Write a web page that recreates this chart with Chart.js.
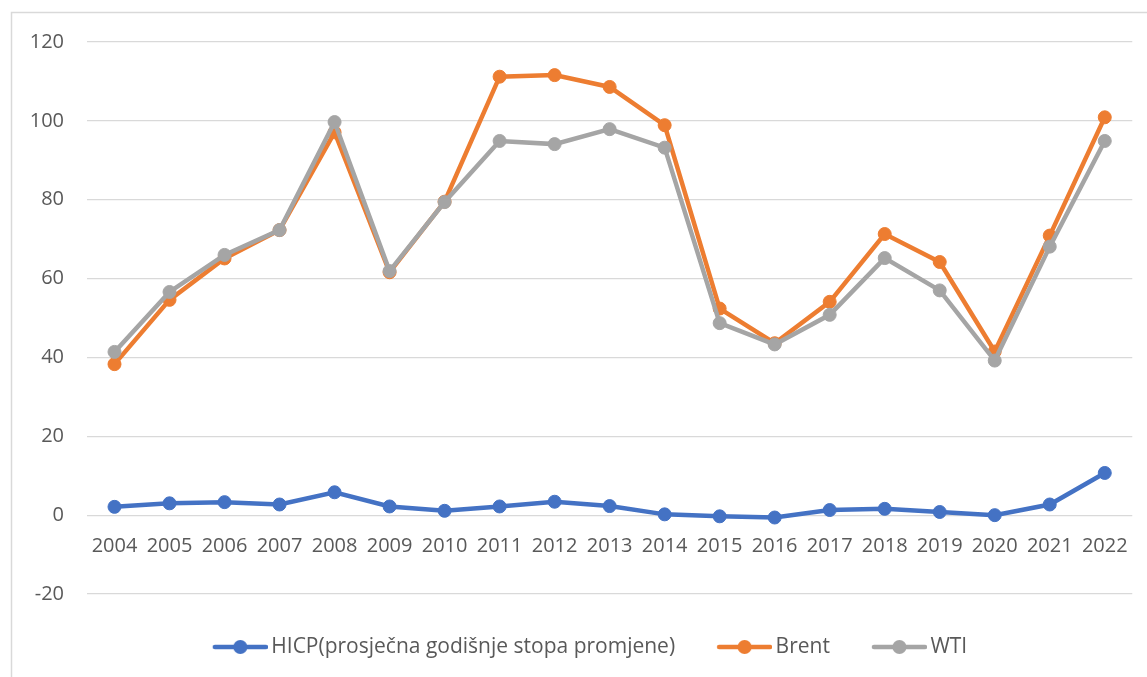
<!DOCTYPE html>
<html>
<head>
<meta charset="utf-8">
<script src="https://cdn.jsdelivr.net/npm/chart.js@4.4.0/dist/chart.umd.min.js"></script>
<style>
  html, body { margin: 0; padding: 0; background: #fff; }
  #wrap { width: 1147px; height: 677px; position: relative; }
</style>
</head>
<body>
<div id="wrap"><canvas id="c"></canvas></div>
<script>
const categories = ["2004","2005","2006","2007","2008","2009","2010","2011","2012","2013","2014","2015","2016","2017","2018","2019","2020","2021","2022"];
const hicp  = [2.1, 3.0, 3.3, 2.7, 5.8, 2.2, 1.1, 2.2, 3.4, 2.3, 0.2, -0.3, -0.6, 1.3, 1.6, 0.8, 0.0, 2.7, 10.7];
const brent = [38.3, 54.6, 65.1, 72.3, 97.1, 61.6, 79.5, 111.2, 111.6, 108.6, 98.9, 52.4, 43.6, 54.1, 71.3, 64.2, 41.5, 70.9, 100.9];
const wti   = [41.4, 56.6, 66.0, 72.3, 99.7, 61.9, 79.4, 94.9, 94.1, 97.9, 93.2, 48.7, 43.3, 50.8, 65.2, 57.0, 39.2, 68.1, 94.9];
const seriesNames = ["HICP(prosječna godišnje stopa promjene)", "Brent", "WTI"];
const seriesColors = ["#4472C4", "#ED7D31", "#A5A5A5"];
const yTicks = [-20, 0, 20, 40, 60, 80, 100, 120];

const FONT = "'Open Sans', 'Liberation Sans', sans-serif";
const TEXT = "#595959";
const BOXW = 80;
const IMGW = BOXW + 14;

function legendImage(color) {
  const c = document.createElement('canvas');
  c.width = IMGW; c.height = 18;
  const ctx = c.getContext('2d');
  const x0 = IMGW - 55, x1 = IMGW;
  ctx.strokeStyle = color; ctx.lineWidth = 4.5; ctx.lineCap = 'round';
  ctx.beginPath(); ctx.moveTo(x0 + 2, 9); ctx.lineTo(x1 - 2, 9); ctx.stroke();
  ctx.fillStyle = color;
  ctx.beginPath(); ctx.arc((x0 + x1) / 2, 9, 7, 0, Math.PI * 2); ctx.fill();
  return c;
}

const framePlugin = {
  id: 'frame',
  beforeDraw(chart) {
    const ctx = chart.ctx;
    ctx.save();
    ctx.strokeStyle = '#d9d9d9';
    ctx.lineWidth = 1.5;
    ctx.beginPath();
    ctx.moveTo(11.5, 677);
    ctx.lineTo(11.5, 12.5);
    ctx.lineTo(1147, 12.5);
    ctx.stroke();
    ctx.restore();
  },
  afterLayout(chart) {
    if (chart.legend) {
      chart.legend.left += 7.5;
      chart.legend.right += 7.5;
    }
  }
};

const datasets = [hicp, brent, wti].map((d, i) => ({
  label: seriesNames[i],
  data: d,
  borderColor: seriesColors[i],
  backgroundColor: seriesColors[i],
  pointBackgroundColor: seriesColors[i],
  pointBorderColor: seriesColors[i],
  borderWidth: 4.5,
  pointRadius: 6.5,
  pointBorderWidth: 1,
  tension: 0,
  order: 3 - i
}));

new Chart(document.getElementById('c'), {
  type: 'line',
  data: { labels: categories, datasets },
  plugins: [framePlugin],
  options: {
    responsive: true,
    maintainAspectRatio: false,
    devicePixelRatio: 1,
    animation: false,
    layout: { padding: { left: 0, right: 14, top: 42, bottom: 9.5 } },
    scales: {
      x: {
        type: 'category',
        offset: true,
        position: { y: 0 },
        grid: { display: false, drawTicks: false },
        border: { display: false },
        ticks: { color: TEXT, font: { family: FONT, size: 20 }, padding: 19, maxRotation: 0, autoSkip: false }
      },
      y: {
        min: -20, max: 120,
        afterBuildTicks(scale) { scale.ticks = yTicks.map(v => ({ value: v })); },
        grid: { color: '#d9d9d9', lineWidth: 1.2, drawTicks: false },
        border: { display: false },
        ticks: { color: TEXT, font: { family: FONT, size: 20 }, padding: 23 },
        afterFit(scale) { scale.width = 87; }
      }
    },
    plugins: {
      tooltip: { enabled: false },
      legend: {
        position: 'bottom',
        title: { display: true, text: '', font: { size: 10 }, padding: { top: 20.5, bottom: 0 } },
        labels: {
          color: TEXT,
          font: { family: FONT, size: 21 },
          usePointStyle: true,
          pointStyleWidth: BOXW,
          padding: 10,
          generateLabels(chart) {
            return chart.data.datasets.map((ds, i) => ({
              text: ds.label,
              fillStyle: ds.borderColor,
              strokeStyle: ds.borderColor,
              fontColor: TEXT,
              lineWidth: 0,
              pointStyle: legendImage(ds.borderColor),
              hidden: false,
              datasetIndex: i
            }));
          }
        }
      }
    }
  }
});
</script>
</body>
</html>
